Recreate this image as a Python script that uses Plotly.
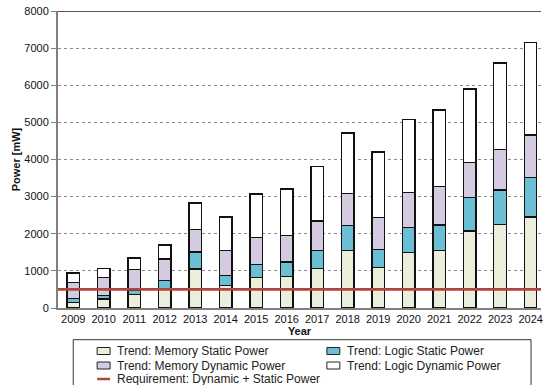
import plotly.graph_objects as go

# Yearly power trend, stacked by component (mW)
years = [str(y) for y in range(2009, 2025)]
memory_static = [151, 242, 358, 535, 1050, 609, 823, 851, 1058, 1543, 1085, 1497, 1551, 2073, 2243, 2450]
logic_static = [99, 97, 108, 208, 457, 269, 351, 388, 493, 673, 493, 665, 684, 905, 934, 1058]
memory_dynamic = [439, 485, 565, 577, 601, 665, 727, 716, 791, 870, 861, 943, 1039, 934, 1094, 1150]
logic_dynamic = [253, 234, 315, 376, 719, 907, 1168, 1249, 1462, 1626, 1761, 1965, 2057, 1985, 2326, 2493]
requirement = 500

series = [
    ("Trend: Memory Static Power", memory_static, "#ECEEDC"),
    ("Trend: Logic Static Power", logic_static, "#6BBFD4"),
    ("Trend: Memory Dynamic Power", memory_dynamic, "#D4CBE0"),
    ("Trend: Logic Dynamic Power", logic_dynamic, "#FFFFFF"),
]
req_name = "Requirement: Dynamic + Static Power"
req_color = "#B0453E"

W, H = 543, 385
L, R, T, B = 58, 0, 11, 77
pw, ph = W - L - R, H - T - B
FONT = "Liberation Sans, Arial, sans-serif"


def px(x):
    return (x - L) / pw


def py(y):
    return (H - B - y) / ph


fig = go.Figure()
for name, vals, color in series:
    fig.add_trace(go.Bar(
        x=years, y=vals, name=name, width=0.41,
        marker=dict(color=color, line=dict(color="#111111", width=1.2)),
        showlegend=False,
    ))

shapes = [
    # requirement level
    dict(type="line", xref="paper", yref="y", x0=0, x1=1, y0=requirement, y1=requirement,
         line=dict(color=req_color, width=2.8), layer="above"),
    # top frame line
    dict(type="line", xref="paper", yref="y", x0=0, x1=1, y0=8000, y1=8000,
         line=dict(color="#222222", width=1.5), layer="above"),
    # legend box
    dict(type="rect", xref="paper", yref="paper", x0=px(73.3), x1=px(533), y0=py(339.7), y1=py(400),
         line=dict(color="#333333", width=1), fillcolor="rgba(0,0,0,0)"),
]
annotations = []

# legend entries: (column x of swatch, row y center)
legend_slots = [(97.3, 351), (328, 351), (97.3, 365.5), (328, 365.5)]
for (name, _, color), (sx, sy) in zip(series, legend_slots):
    shapes.append(dict(type="rect", xref="paper", yref="paper",
                       x0=px(sx), x1=px(sx + 13), y0=py(sy + 3.5), y1=py(sy - 3.5),
                       line=dict(color="#222222", width=1), fillcolor=color))
    annotations.append(dict(xref="paper", yref="paper", x=px(sx + 18), y=py(sy),
                            text=name, showarrow=False, xanchor="left", yanchor="middle",
                            font=dict(family=FONT, size=12, color="#222222")))
shapes.append(dict(type="line", xref="paper", yref="paper",
                   x0=px(97.3), x1=px(110.3), y0=py(379), y1=py(379),
                   line=dict(color=req_color, width=2.5)))
annotations.append(dict(xref="paper", yref="paper", x=px(115.3), y=py(379),
                        text=req_name, showarrow=False, xanchor="left", yanchor="middle",
                        font=dict(family=FONT, size=12, color="#222222")))

fig.update_layout(
    width=W, height=H,
    margin=dict(l=L, r=R, t=T, b=B, pad=0),
    barmode="stack",
    plot_bgcolor="white", paper_bgcolor="white",
    font=dict(family=FONT, size=11, color="#111111"),
    shapes=shapes, annotations=annotations,
    showlegend=False,
    xaxis=dict(
        type="category", range=[-0.5, 15.34],
        showline=True, linecolor="#808080", linewidth=1.5,
        ticks="", showgrid=False,
        tickfont=dict(size=11),
        title=dict(text="<b>Year</b>", font=dict(size=11), standoff=3),
    ),
    yaxis=dict(
        range=[0, 8000], dtick=1000,
        showline=True, linecolor="#808080", linewidth=2,
        ticks="outside", ticklen=5, tickcolor="#808080",
        showgrid=True, gridcolor="#8a8a8a", griddash="dot", gridwidth=1,
        zeroline=False,
        tickfont=dict(size=11),
        title=dict(text="<b>Power [mW]</b>", font=dict(size=11), standoff=1),
    ),
)

fig.write_html("out.html")
